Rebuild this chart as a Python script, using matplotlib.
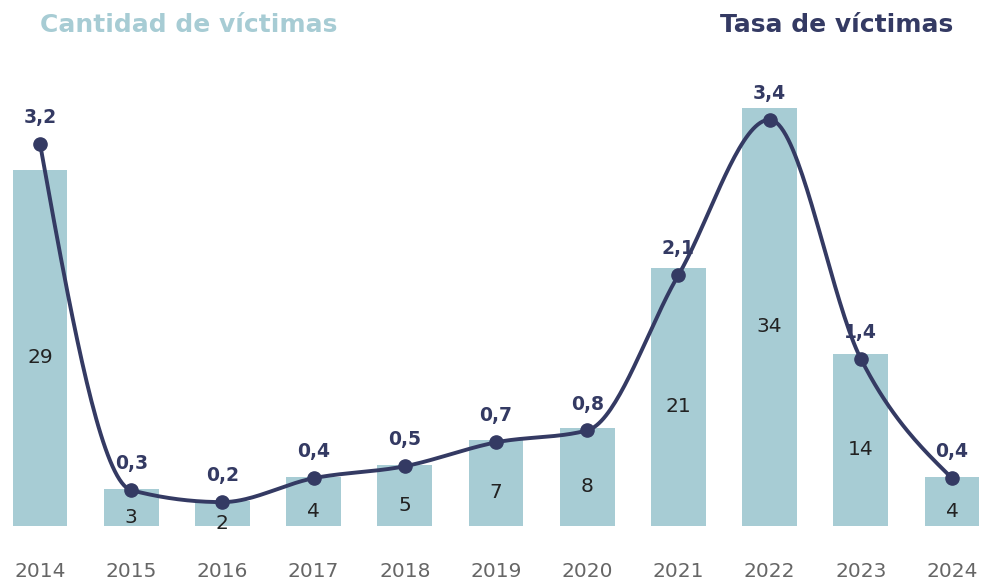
import numpy as np
import matplotlib
matplotlib.use("Agg")
import matplotlib.pyplot as plt

years = ['2014', '2015', '2016', '2017', '2018', '2019', '2020', '2021', '2022', '2023', '2024']
victimas = [29, 3, 2, 4, 5, 7, 8, 21, 34, 14, 4]
tasa = [3.2, 0.3, 0.2, 0.4, 0.5, 0.7, 0.8, 2.1, 3.4, 1.4, 0.4]
tasa_labels = ['3,2', '0,3', '0,2', '0,4', '0,5', '0,7', '0,8', '2,1', '3,4', '1,4', '0,4']

bar_color = '#a7ccd4'
navy = '#343a63'

plt.rcParams['font.family'] = ['DejaVu Sans']


def smooth(x, y, n=40):
    # monotone curve like d3.curveMonotoneX
    x = np.asarray(x, float)
    y = np.asarray(y, float)
    h = np.diff(x)
    d = np.diff(y) / h
    m = np.zeros_like(y)
    for k in range(1, len(y) - 1):
        p = (d[k - 1] * h[k] + d[k] * h[k - 1]) / (h[k - 1] + h[k])
        m[k] = (np.sign(d[k - 1]) + np.sign(d[k])) * min(abs(d[k - 1]), abs(d[k]), 0.5 * abs(p))
    m[0] = (3 * d[0] - m[1]) / 2
    m[-1] = (3 * d[-1] - m[-2]) / 2
    xs, ys = [], []
    s = np.linspace(0, 1, n)
    for i in range(len(x) - 1):
        h00 = 2 * s**3 - 3 * s**2 + 1
        h10 = s**3 - 2 * s**2 + s
        h01 = -2 * s**3 + 3 * s**2
        h11 = s**3 - s**2
        xs.append(x[i] + s * h[i])
        ys.append(h00 * y[i] + h10 * h[i] * m[i] + h01 * y[i + 1] + h11 * h[i] * m[i + 1])
    return np.concatenate(xs), np.concatenate(ys)


fig = plt.figure(figsize=(9.86, 5.86), dpi=100)
ax = fig.add_axes([0, 60 / 586, 1, 466 / 586])
x = np.arange(len(years))

ax.bar(x, victimas, width=0.6, color=bar_color)
ax.set_xlim(-40 / 91.2, (986 - 40) / 91.2)
ax.set_ylim(0, 466 / 12.28)
for xi, v in zip(x, victimas):
    ax.annotate(str(v), (xi, v / 2), xytext=(0, -7), textcoords='offset points',
                ha='center', va='center', fontsize=14.5, color='#222222')

ax.set_xticks(x)
ax.set_xticklabels(years, fontsize=14.5, color='#666666')
ax.tick_params(axis='x', length=0, pad=26)
ax.set_yticks([])
for sp in ax.spines.values():
    sp.set_visible(False)

ax2 = ax.twinx()
ax2.set_ylim(0, 466 / 119.5)
sx, sy = smooth(x, tasa)
ax2.plot(sx, sy, color=navy, lw=2.8, zorder=3)
ax2.plot(x, tasa, 'o', color=navy, ms=9.5, zorder=4)
for xi, v, lab in zip(x, tasa, tasa_labels):
    ax2.annotate(lab, (xi, v), xytext=(0, 19), textcoords='offset points',
                 ha='center', va='center', fontsize=13.5, fontweight='bold', color=navy,
                 zorder=1)
ax2.set_yticks([])
for sp in ax2.spines.values():
    sp.set_visible(False)

fig.text(40 / 986, 1 - 25 / 586, 'Cantidad de víctimas', fontsize=18, fontweight='bold',
         color=bar_color, ha='left', va='center')
fig.text(953 / 986, 1 - 25 / 586, 'Tasa de víctimas', fontsize=18, fontweight='bold',
         color=navy, ha='right', va='center')

fig.savefig('out.png', dpi=100)
